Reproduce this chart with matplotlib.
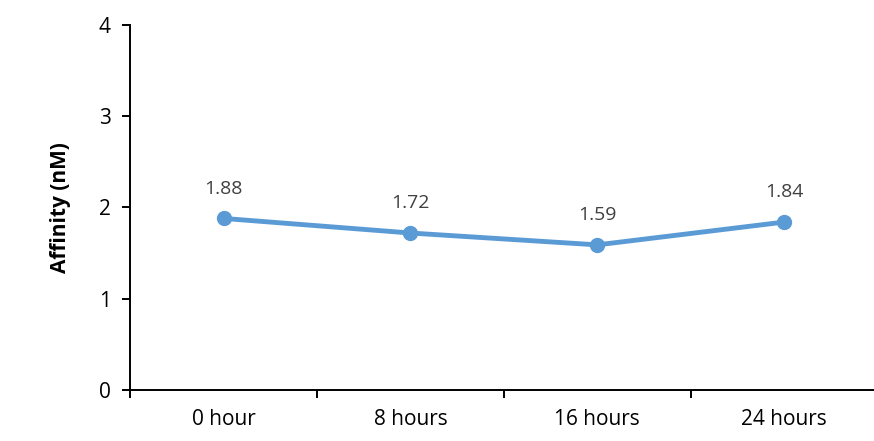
import matplotlib
matplotlib.use("Agg")
import matplotlib.pyplot as plt

plt.rcParams['font.family'] = ['Open Sans', 'DejaVu Sans']

categories = ["0 hour", "8 hours", "16 hours", "24 hours"]
affinity = [1.88, 1.72, 1.59, 1.84]

fig = plt.figure(figsize=(8.74, 4.41), dpi=100)
ax = fig.add_axes([0.149, 0.116, 0.855, 0.827])

x = list(range(len(categories)))
ax.plot(x, affinity, "-o", color="#5B9BD5", lw=3.5, ms=10, zorder=3, clip_on=False)
for xi, v in zip(x, affinity):
    ax.annotate(f"{v:.2f}", (xi, v), xytext=(0, 15), textcoords="offset points",
                ha="center", va="bottom", fontsize=14, color="#404040")

ax.set_xlim(-0.5, 3.5)
ax.set_ylim(0, 4)
ax.set_yticks([0, 1, 2, 3, 4])
ax.set_xticks(x)
ax.set_xticklabels(categories)
ax.set_xticks([-0.5, 0.5, 1.5, 2.5, 3.5], minor=True)
ax.tick_params(axis="x", which="major", length=0, pad=14, labelsize=15)
ax.tick_params(axis="x", which="minor", length=6, width=1.4, direction="out")
ax.tick_params(axis="y", length=6, width=1.4, direction="out", labelsize=15, pad=8)
ax.set_ylabel("Affinity (nM)", fontsize=15, fontweight="bold", labelpad=20)

for s in ["top", "right"]:
    ax.spines[s].set_visible(False)
for s in ["left", "bottom"]:
    ax.spines[s].set_linewidth(1.4)

fig.savefig("out.png", dpi=100)
